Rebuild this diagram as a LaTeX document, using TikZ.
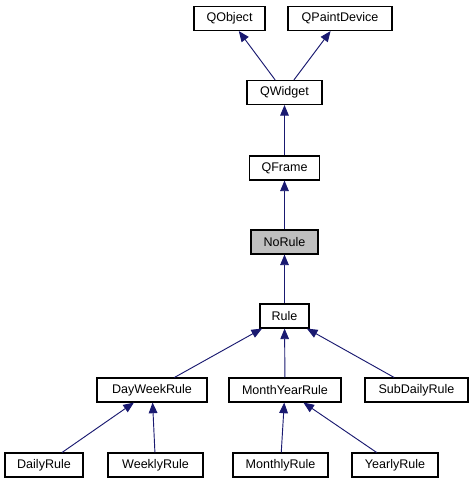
\documentclass[tikz,border=0pt]{standalone}
\usepackage{fontspec}
\setmainfont{Liberation Sans}
\usetikzlibrary{arrows.meta}
\definecolor{edgeblue}{HTML}{191970}
\definecolor{hlgray}{HTML}{BFBFBF}
\begin{document}
\begin{tikzpicture}[x=0.75pt,y=-0.75pt,
  box/.style={draw=black,line width=0.8pt,fill=white,inner sep=0pt,minimum height=18pt,font=\fontsize{9.4}{11}\selectfont},
  hl/.style={box,fill=hlgray},
  edge/.style={draw=edgeblue,line width=0.7pt,-{Triangle[length=8pt,width=6.5pt]}}]
\useasboundingbox (0,0) rectangle (473,485);
\node[box,minimum width=53.25pt] (qobject) at (229.5,18.5) {QObject};
\node[box,minimum width=78pt] (qpaint) at (340,18.5) {QPaintDevice};
\node[box,minimum width=56.25pt] (qwidget) at (284.5,92.5) {QWidget};
\node[box,minimum width=52.5pt] (qframe) at (284.5,168) {QFrame};
\node[hl,minimum width=50.25pt] (norule) at (284.5,242) {NoRule};
\node[box,minimum width=36.75pt] (rule) at (284.5,316) {Rule};
\node[box,minimum width=82.5pt] (dayweek) at (152,390) {DayWeekRule};
\node[box,minimum width=84pt] (monthyear) at (285,390) {MonthYearRule};
\node[box,minimum width=77.25pt] (subdaily) at (416.5,390) {SubDailyRule};
\node[box,minimum width=58.5pt] (daily) at (44,465) {DailyRule};
\node[box,minimum width=71.25pt] (weekly) at (155.5,465) {WeeklyRule};
\node[box,minimum width=71.25pt] (monthly) at (280.5,465) {MonthlyRule};
\node[box,minimum width=64.5pt] (yearly) at (395,465) {YearlyRule};
\draw[edge] (qwidget) -- (qobject);
\draw[edge] (qwidget) -- (qpaint);
\draw[edge] (qframe) -- (qwidget);
\draw[edge] (norule) -- (qframe);
\draw[edge] (rule) -- (norule);
\draw[edge] (dayweek) -- (rule);
\draw[edge] (monthyear) -- (rule);
\draw[edge] (subdaily) -- (rule);
\draw[edge] (daily) -- (dayweek);
\draw[edge] (weekly) -- (dayweek);
\draw[edge] (monthly) -- (monthyear);
\draw[edge] (yearly) -- (monthyear);
\end{tikzpicture}
\end{document}
